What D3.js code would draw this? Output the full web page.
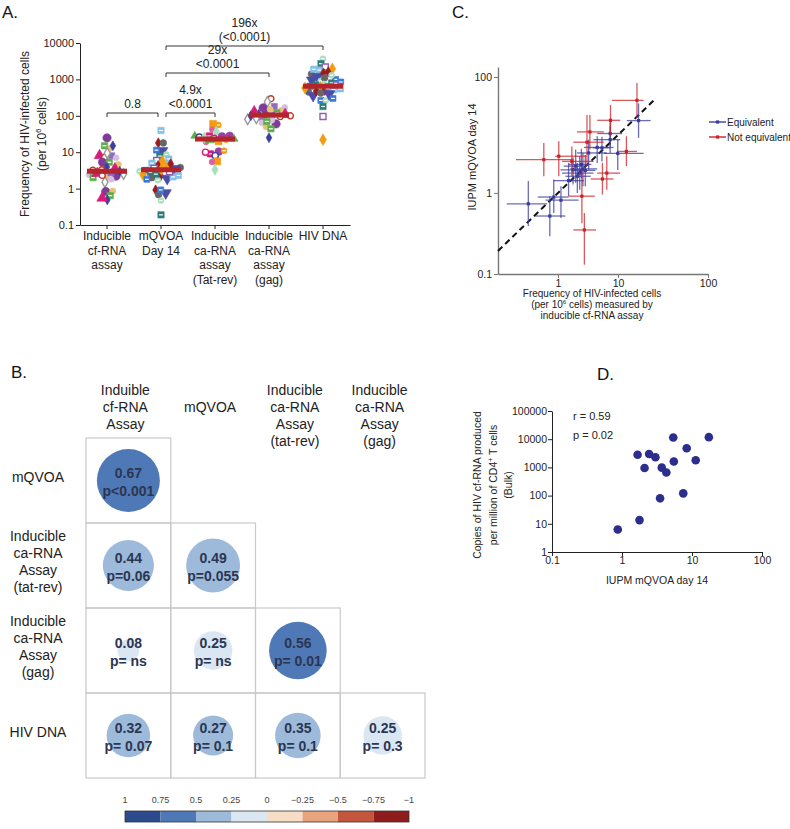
<!DOCTYPE html>
<html>
<head>
<meta charset="utf-8">
<script src="https://cdn.jsdelivr.net/npm/d3@7"></script>
<style>
  body { margin: 0; background: #fff; }
  svg { font-family: "Liberation Sans", Arial, sans-serif; }
</style>
</head>
<body>
<svg width="790" height="829"></svg>
<script>
const svg = d3.select("svg");
const FONT = "'Liberation Sans', Arial, sans-serif";

// ---------------- data: panel A ----------------
const catsA = ["cfRNA", "mQVOA", "tatRev", "gag", "hivDNA"];
const catLabelsA = [
  ["Inducible", "cf-RNA", "assay"],
  ["mQVOA", "Day 14"],
  ["Inducible", "ca-RNA", "assay", "(Tat-rev)"],
  ["Inducible", "ca-RNA", "assay", "(gag)"],
  ["HIV DNA"]
];
const mediansA = [3.0, 3.3, 23, 105, 650];
const cfRNA = [24.7, 12.4, 15, 15, 8.1, 7.3, 8, 9.4, 7, 5.3, 4.6, 5.3, 3.9, 3.5, 3.2, 2.8, 2.5, 2.4, 2.2, 2.0, 2.0, 3.0, 2.6, 3.3, 2.7, 1.5, 1.8, 0.83, 0.85, 0.64, 0.49, 0.55, 2.3];
const mQVOA = [39.5, 18, 18, 11, 11.4, 8.6, 7.8, 5.9, 5.6, 5, 4.3, 3.8, 3.5, 3.2, 3.0, 2.8, 2.6, 2.4, 2.3, 2.2, 2.0, 1.9, 1.8, 1.7, 2.5, 3.6, 4.0, 2.1, 0.92, 0.68, 0.76, 0.92, 0.47, 0.19, 2.9, 3.4, 6.5, 4.8];
const tatRev = [56, 60, 42, 36, 28, 28, 28, 26, 24, 22, 20, 19, 25, 23, 10.4, 9, 8, 10, 11, 5.6, 5.4, 3.3, 21, 27];
const gag = [295, 180, 240, 170, 165, 140, 120, 110, 110, 100, 90, 80, 64, 60, 50, 44, 25, 130, 95, 105, 85, 75, 115, 150, 70, 100];
const hivDNA = [3700, 2700, 2200, 1950, 1800, 1600, 1400, 1200, 1000, 900, 800, 700, 600, 550, 500, 450, 360, 265, 265, 180, 96, 22, 1900, 1500, 1100, 950, 850, 750, 650, 620, 580, 520, 480, 420, 400, 300, 1300, 700];
const compsA = [
  { a: "cfRNA", b: "mQVOA", text: ["0.8"] },
  { a: "mQVOA", b: "tatRev", text: ["4.9x", "<0.0001"] },
  { a: "mQVOA", b: "gag", text: ["29x", "<0.0001"] },
  { a: "mQVOA", b: "hivDNA", text: ["196x", "(<0.0001)"] }
];
// one marker style per participant
const patientStyles = [
  ["circle", "#7d3c98", "solid", 55], ["square", "#d81b7a", "barred", 40], ["diamond", "#f39c12", "solid", 40],
  ["circle", "#e6c27a", "solid", 30], ["circle", "#3b3fa0", "open", 30], ["square", "#85c1e9", "barred", 40],
  ["square", "#5cae4a", "barred", 40], ["circle", "#d81b7a", "open", 30], ["diamond", "#9b1c1c", "solid", 30],
  ["diamond", "#3b3fa0", "solid", 28], ["circle", "#f39c12", "barred", 28], ["circle", "#666666", "solid", 35],
  ["triangle", "#d81b7a", "solid", 50], ["square", "#f39c12", "solid", 48], ["triangleDown", "#4b4ba8", "solid", 55],
  ["circle", "#c0392b", "open", 28], ["circle", "#e05fa0", "solid", 25], ["square", "#3c78d8", "barred", 36],
  ["square", "#8e6bbf", "solid", 36], ["diamond", "#a9dfbf", "solid", 36], ["circle", "#a9dfbf", "barred", 28],
  ["diamond", "#999999", "open", 32], ["triangle", "#5cae4a", "solid", 28], ["square", "#2e7d7a", "barred", 40],
  ["circle", "#d7bde2", "solid", 28], ["circle", "#9b3fa8", "solid", 48], ["square", "#8e5fb0", "open", 36]
];

// ---------------- data: panel B ----------------
const rowLabelsB = [["mQVOA"], ["Inducible", "ca-RNA", "Assay", "(tat-rev)"], ["Inducible", "ca-RNA", "Assay", "(gag)"], ["HIV DNA"]];
const colLabelsB = [["Induible", "cf-RNA", "Assay"], ["mQVOA"], ["Inducible", "ca-RNA", "Assay", "(tat-rev)"], ["Inducible", "ca-RNA", "Assay", "(gag)"]];
const corrB = [[0.67], [0.44, 0.49], [0.08, 0.25, 0.56], [0.32, 0.27, 0.35, 0.25]];
const pB = [["p<0.001"], ["p=0.06", "p=0.055"], ["p= ns", "p= ns", "p= 0.01"], ["p= 0.07", "p= 0.1", "p= 0.1", "p= 0.3"]];
const legendTicksB = [1, 0.75, 0.5, 0.25, 0, -0.25, -0.5, -0.75, -1];
const legendColorsB = ["#2c4a8e", "#4f79b6", "#9dbadb", "#dbe6f3", "#f7ddc6", "#e9a47e", "#c4563e", "#8e1c1c"];

// ---------------- data: panel C ----------------
const equivalentC = [
  { x: 0.32, xlo: 0.14, xhi: 0.66, y: 0.65, ylo: 0.27, yhi: 1.6 },
  { x: 0.73, xlo: 0.42, xhi: 1.33, y: 0.40, ylo: 0.18, yhi: 0.88 },
  { x: 0.85, xlo: 0.46, xhi: 1.5, y: 0.85, ylo: 0.45, yhi: 1.7 },
  { x: 1.12, xlo: 0.62, xhi: 2.2, y: 0.75, ylo: 0.37, yhi: 1.3 },
  { x: 1.5, xlo: 0.85, xhi: 2.7, y: 1.63, ylo: 0.88, yhi: 3.3 },
  { x: 1.97, xlo: 1.24, xhi: 3.0, y: 2.9, ylo: 1.5, yhi: 5.6 },
  { x: 2.3, xlo: 1.17, xhi: 3.9, y: 2.2, ylo: 1.14, yhi: 4.3 },
  { x: 2.6, xlo: 1.6, xhi: 4.5, y: 2.6, ylo: 1.3, yhi: 4.9 },
  { x: 2.85, xlo: 1.8, xhi: 4.2, y: 2.45, ylo: 1.3, yhi: 4.5 },
  { x: 2.1, xlo: 1.33, xhi: 3.5, y: 1.94, ylo: 1.0, yhi: 3.3 },
  { x: 1.78, xlo: 1.1, xhi: 2.9, y: 2.5, ylo: 1.4, yhi: 4.1 },
  { x: 2.45, xlo: 1.5, xhi: 3.6, y: 3.1, ylo: 1.8, yhi: 5.8 },
  { x: 3.24, xlo: 2.07, xhi: 6.5, y: 4.9, ylo: 2.5, yhi: 8.3 },
  { x: 4.5, xlo: 2.7, xhi: 8.4, y: 6.1, ylo: 3.3, yhi: 9.5 },
  { x: 5.4, xlo: 3.8, xhi: 7.2, y: 6.0, ylo: 3.5, yhi: 9.3 },
  { x: 7.4, xlo: 3.9, xhi: 10.9, y: 8.3, ylo: 4.9, yhi: 14 },
  { x: 7.4, xlo: 4.5, xhi: 11.7, y: 10.6, ylo: 6.4, yhi: 18 },
  { x: 9.9, xlo: 5.8, xhi: 26.7, y: 4.8, ylo: 2.5, yhi: 8.3 },
  { x: 22, xlo: 14, xhi: 35, y: 17.7, ylo: 8.9, yhi: 35 }
];
const notEquivalentC = [
  { x: 0.58, xlo: 0.2, xhi: 1.8, y: 3.75, ylo: 1.94, yhi: 7.3 },
  { x: 1.03, xlo: 0.9, xhi: 3.0, y: 4.3, ylo: 1.94, yhi: 7.8 },
  { x: 1.7, xlo: 1.17, xhi: 3.9, y: 3.5, ylo: 1.94, yhi: 6.3 },
  { x: 3.04, xlo: 1.8, xhi: 5.8, y: 7.5, ylo: 2.9, yhi: 22 },
  { x: 3.4, xlo: 2.07, xhi: 5.8, y: 11.3, ylo: 5.6, yhi: 22 },
  { x: 7.5, xlo: 4.5, xhi: 10.9, y: 17.9, ylo: 9.5, yhi: 33 },
  { x: 20.7, xlo: 7.9, xhi: 26.7, y: 39.6, ylo: 19.7, yhi: 79 },
  { x: 13.8, xlo: 9.6, xhi: 20.7, y: 5.2, ylo: 2.9, yhi: 9.5 },
  { x: 6.5, xlo: 4.5, xhi: 10.9, y: 2.2, ylo: 1.14, yhi: 4.3 },
  { x: 5.5, xlo: 3.5, xhi: 8.4, y: 1.74, ylo: 0.94, yhi: 3.3 },
  { x: 2.5, xlo: 1.5, xhi: 4.1, y: 0.88, ylo: 0.3, yhi: 2.5 },
  { x: 2.75, xlo: 1.8, xhi: 4.3, y: 0.23, ylo: 0.058, yhi: 0.45 }
];
const xTickLabelsC = ["1", "10", "100"];
const yTickLabelsC = ["0.1", "1", "100"];

// ---------------- data: panel D ----------------
const iupmD = [0.87, 1.78, 1.67, 2.1, 2.44, 3.0, 3.7, 4.3, 3.5, 5.4, 5.5, 7.5, 8.4, 11.3, 17.4];
const copiesD = [6.3, 13.5, 2800, 950, 3000, 2300, 980, 660, 80, 11500, 1620, 120, 4800, 1800, 11800];

// ---------------- helpers ----------------
function styleAxis(g, size, stroke) {
  g.attr("font-family", FONT).attr("font-size", size);
  g.selectAll("path, line").attr("stroke", stroke);
  g.selectAll("text").attr("fill", "#222");
}
function panelLabel(x, y, t) {
  svg.append("text").attr("x", x).attr("y", y).attr("font-size", 17).attr("fill", "#111").text(t);
}

// ================= Panel A =================
panelLabel(2, 18, "A.");
const xA = d3.scaleBand().domain(catsA).range([80, 350]);
const yA = d3.scaleLog().domain([0.1, 10000]).range([225, 43]);
const gA = svg.append("g");
const cx = c => xA(c) + xA.bandwidth() / 2;

const yAxA = gA.append("g").attr("transform", "translate(80,0)")
  .call(d3.axisLeft(yA).tickValues([0.1, 1, 10, 100, 1000, 10000])
    .tickFormat(d3.format("~g")).tickSize(4).tickPadding(2).tickSizeOuter(0));
styleAxis(yAxA, 11, "#222");
const xAxA = gA.append("g").attr("transform", "translate(0,225)")
  .call(d3.axisBottom(xA).tickSize(4).tickSizeOuter(0).tickFormat(""));
styleAxis(xAxA, 12, "#222");

catsA.forEach((c, i) => {
  const t = gA.append("text").attr("text-anchor", "middle").attr("font-size", 12).attr("fill", "#222");
  catLabelsA[i].forEach((s, j) => t.append("tspan").attr("x", cx(c)).attr("y", 240 + j * 14.5).text(s));
});

const yLab = gA.append("text").attr("transform", "translate(29,134) rotate(-90)")
  .attr("text-anchor", "middle").attr("font-size", 12).attr("fill", "#222");
yLab.append("tspan").attr("x", 0).attr("y", 0).text("Frequency of HIV-infected cells");
const yLab2 = gA.append("text").attr("transform", "translate(46,134) rotate(-90)")
  .attr("text-anchor", "middle").attr("font-size", 12).attr("fill", "#222");
yLab2.append("tspan").text("(per 10");
yLab2.append("tspan").attr("font-size", 8).attr("dy", -5).text("6");
yLab2.append("tspan").attr("dy", 5).text(" cells)");

// points, spread sideways with a small collide simulation per column
const seriesA = [cfRNA, mQVOA, tatRev, gag, hivDNA];
const symType = {
  circle: d3.symbolCircle, square: d3.symbolSquare, diamond: d3.symbolDiamond,
  triangle: d3.symbolTriangle, triangleDown: d3.symbolTriangle
};
seriesA.forEach((vals, k) => {
  const c = catsA[k];
  const nodes = vals.map((v, i) => {
    const st = patientStyles[(i * 3 + k * 5) % patientStyles.length];
    return { v, shape: st[0], color: st[1], fill: st[2], size: st[3], r: Math.sqrt(st[3] / Math.PI), fy: yA(v) };
  });
  const sim = d3.forceSimulation(nodes)
    .force("x", d3.forceX(cx(c)).strength(0.2))
    .force("col", d3.forceCollide(d => d.r * 0.78))
    .stop();
  for (let i = 0; i < 250; i++) sim.tick();

  const g = gA.append("g");
  nodes.forEach(d => {
    const rot = d.shape === "triangleDown" ? " rotate(180)" : "";
    const gg = g.append("g").attr("transform", `translate(${d.x},${d.fy})${rot}`);
    gg.append("path")
      .attr("d", d3.symbol().type(symType[d.shape]).size(d.size)())
      .attr("fill", d.fill === "open" ? "#fff" : d.color)
      .attr("stroke", d.color)
      .attr("stroke-width", d.fill === "open" ? 1.4 : 0.6);
    if (d.fill === "barred") {
      gg.append("line").attr("x1", -d.r * 0.55).attr("x2", d.r * 0.55)
        .attr("stroke", "#fff").attr("stroke-width", 1.2);
    }
  });
});

// median bars
gA.selectAll("rect.med").data(mediansA).join("rect")
  .attr("x", (d, i) => cx(catsA[i]) - 20).attr("width", 40)
  .attr("y", d => yA(d) - 2.5).attr("height", 5)
  .attr("fill", "#b5232b");

// comparison brackets
const bracketY = [113, 113, 73, 46];
compsA.forEach((cmp, i) => {
  const x1 = cx(cmp.a) + (i > 0 ? 5 : 0), x2 = cx(cmp.b) - (i === 0 ? 3 : 0);
  const y = bracketY[i];
  gA.append("path").attr("d", `M${x1},${y + 4}V${y}H${x2}V${y + 4}`)
    .attr("fill", "none").attr("stroke", "#333").attr("stroke-width", 1);
  const n = cmp.text.length;
  cmp.text.forEach((s, j) => {
    gA.append("text").attr("x", (x1 + x2) / 2).attr("y", y - 5 - (n - 1 - j) * 14)
      .attr("text-anchor", "middle").attr("font-size", 12).attr("fill", "#222").text(s);
  });
});

// ================= Panel B =================
panelLabel(11, 378, "B.");
const gB = svg.append("g");
const xB = d3.scaleBand().domain(d3.range(4)).range([86, 425]);
const yB = d3.scaleBand().domain(d3.range(4)).range([438, 778]);
const rB = d3.scaleSqrt().domain([0, 1]).range([0, 38.5]);
const colorB = d3.scaleThreshold().domain([-0.75, -0.5, -0.25, 0, 0.25, 0.5, 0.75])
  .range(legendColorsB.slice().reverse());

colLabelsB.forEach((lines, j) => {
  const t = gB.append("text").attr("text-anchor", "middle").attr("font-size", 14).attr("fill", "#222");
  const y0 = 395 + (lines.length === 1 ? 17 : 0);
  lines.forEach((s, k) => t.append("tspan").attr("x", xB(j) + xB.bandwidth() / 2 - 3).attr("y", y0 + k * 17).text(s));
});
rowLabelsB.forEach((lines, i) => {
  const t = gB.append("text").attr("text-anchor", "middle").attr("font-size", 14).attr("fill", "#222");
  const yc = yB(i) + yB.bandwidth() / 2 - 4;
  lines.forEach((s, k) => t.append("tspan").attr("x", 38)
    .attr("y", yc + (k - (lines.length - 1) / 2) * 17.3 + 5).text(s));
});

corrB.forEach((row, i) => {
  row.forEach((v, j) => {
    gB.append("rect").attr("x", xB(j)).attr("y", yB(i))
      .attr("width", xB.bandwidth()).attr("height", yB.bandwidth())
      .attr("fill", "none").attr("stroke", "#c9c9c9").attr("stroke-width", 1.2);
  });
});
corrB.forEach((row, i) => {
  row.forEach((v, j) => {
    const ccx = xB(j) + xB.bandwidth() / 2, ccy = yB(i) + yB.bandwidth() / 2;
    gB.append("circle").attr("cx", ccx).attr("cy", ccy).attr("r", rB(Math.abs(v)))
      .attr("fill", colorB(v - 1e-6));
    gB.append("text").attr("x", ccx).attr("y", ccy - 3).attr("text-anchor", "middle")
      .attr("font-size", 14).attr("font-weight", "bold").attr("fill", "#2b3652").text(d3.format(".2f")(v));
    gB.append("text").attr("x", ccx).attr("y", ccy + 15).attr("text-anchor", "middle")
      .attr("font-size", 14).attr("font-weight", "bold").attr("fill", "#2b3652").text(pB[i][j]);
  });
});

// colour legend
const xLeg = d3.scalePoint().domain(legendTicksB).range([125, 409]);
legendColorsB.forEach((col, i) => {
  gB.append("rect").attr("x", xLeg(legendTicksB[i])).attr("y", 811)
    .attr("width", xLeg(legendTicksB[i + 1]) - xLeg(legendTicksB[i])).attr("height", 11)
    .attr("fill", col);
});
gB.append("rect").attr("x", 125).attr("y", 811).attr("width", 284).attr("height", 11)
  .attr("fill", "none").attr("stroke", "#333").attr("stroke-width", 0.8);
legendTicksB.forEach(t => {
  gB.append("text").attr("x", xLeg(t)).attr("y", 803).attr("text-anchor", "middle")
    .attr("font-size", 9).attr("fill", "#444").text(d3.format("~g")(t).replace("-", "\u2212"));
});

// ================= Panel C =================
panelLabel(452, 18, "C.");
const gC = svg.append("g");
const xC = d3.scaleLog().domain([0.1, 316]).range([498, 708]);
const yC = d3.scaleLog().domain([0.04, 148.7]).range([274, 67]);

const xAxC = gC.append("g").attr("transform", "translate(0,274)")
  .call(d3.axisBottom(xC).tickValues([1, 10, xC.domain()[1]])
    .tickFormat((d, i) => xTickLabelsC[i]).tickSize(4).tickPadding(2).tickSizeOuter(0));
styleAxis(xAxC, 10.5, "#777");
const yAxC = gC.append("g").attr("transform", "translate(498,0)")
  .call(d3.axisLeft(yC).tickValues([yC.domain()[0], 1, 100])
    .tickFormat((d, i) => yTickLabelsC[i]).tickSize(4).tickPadding(2).tickSizeOuter(0));
styleAxis(yAxC, 10.5, "#777");
xAxC.select(".domain").attr("stroke-width", 1.4);
yAxC.select(".domain").attr("stroke-width", 1.4);

gC.append("line").attr("x1", xC(0.1)).attr("y1", yC(0.1)).attr("x2", xC(42)).attr("y2", yC(42))
  .attr("stroke", "#111").attr("stroke-width", 2).attr("stroke-dasharray", "6,4");

function drawErr(data, color) {
  const g = gC.append("g");
  data.forEach(d => {
    g.append("line").attr("x1", xC(d.xlo)).attr("x2", xC(d.xhi)).attr("y1", yC(d.y)).attr("y2", yC(d.y))
      .attr("stroke", color).attr("stroke-width", 1.3).attr("stroke-opacity", 0.75);
    g.append("line").attr("x1", xC(d.x)).attr("x2", xC(d.x)).attr("y1", yC(d.ylo)).attr("y2", yC(d.yhi))
      .attr("stroke", color).attr("stroke-width", 1.3).attr("stroke-opacity", 0.75);
    g.append("rect").attr("x", xC(d.x) - 1.6).attr("y", yC(d.y) - 1.6).attr("width", 3.2).attr("height", 3.2)
      .attr("fill", color);
  });
}
drawErr(equivalentC, "#3b3b9c");
drawErr(notEquivalentC, "#cc2026");

[["Equivalent", "#3b3b9c", 122], ["Not equivalent", "#cc2026", 137]].forEach(([t, c, y]) => {
  gC.append("line").attr("x1", 709).attr("x2", 726).attr("y1", y).attr("y2", y).attr("stroke", c).attr("stroke-width", 1.4);
  gC.append("rect").attr("x", 716).attr("y", y - 1.6).attr("width", 3.2).attr("height", 3.2).attr("fill", c);
  gC.append("text").attr("x", 727).attr("y", y + 3.5).attr("font-size", 10).attr("fill", "#222").text(t);
});

gC.append("text").attr("transform", "translate(476,157) rotate(-90)").attr("text-anchor", "middle")
  .attr("font-size", 11).attr("fill", "#222").text("IUPM mQVOA day 14");
const xlC = gC.append("text").attr("text-anchor", "middle").attr("font-size", 10).attr("fill", "#222");
xlC.append("tspan").attr("x", 592).attr("y", 297).text("Frequency of HIV-infected cells");
const l2 = xlC.append("tspan").attr("x", 592).attr("y", 308);
l2.append("tspan").text("(per 10");
l2.append("tspan").attr("font-size", 6).attr("dy", -4).text("6");
l2.append("tspan").attr("dy", 4).text(" cells) measured by");
xlC.append("tspan").attr("x", 592).attr("y", 319).text("inducible cf-RNA assay");

// ================= Panel D =================
panelLabel(597, 380, "D.");
const gD = svg.append("g");
const xD = d3.scaleLog().domain([0.1, 100]).range([552, 762]);
const yD = d3.scaleLog().domain([1, 100000]).range([552, 411]);

const xAxD = gD.append("g").attr("transform", "translate(0,552)")
  .call(d3.axisBottom(xD).tickValues([0.1, 1, 10, 100]).tickFormat(d3.format("~g"))
    .tickSize(4).tickPadding(1).tickSizeOuter(0));
styleAxis(xAxD, 10.5, "#222");
const yAxD = gD.append("g").attr("transform", "translate(552,0)")
  .call(d3.axisLeft(yD).tickValues([1, 10, 100, 1000, 10000, 100000]).tickFormat(d3.format("~g"))
    .tickSize(4).tickPadding(1).tickSizeOuter(0));
styleAxis(yAxD, 10.5, "#222");

gD.selectAll("circle").data(iupmD).join("circle")
  .attr("cx", d => xD(d)).attr("cy", (d, i) => yD(copiesD[i])).attr("r", 4.3)
  .attr("fill", "#2b2e8c");

gD.append("text").attr("x", 573).attr("y", 420).attr("font-size", 11).attr("fill", "#222").text("r = 0.59");
gD.append("text").attr("x", 573).attr("y", 439).attr("font-size", 11).attr("fill", "#222").text("p = 0.02");

gD.append("text").attr("x", 657).attr("y", 584).attr("text-anchor", "middle")
  .attr("font-size", 10.5).attr("fill", "#222").text("IUPM mQVOA day 14");
const ylD = gD.append("text").attr("transform", "translate(0,485) rotate(-90)")
  .attr("text-anchor", "middle").attr("font-size", 10.5).attr("fill", "#222");
ylD.append("tspan").attr("x", 0).attr("y", 481).text("Copies of HIV cf-RNA produced");
const d2 = ylD.append("tspan").attr("x", 0).attr("y", 497);
d2.append("tspan").text("per million of  CD4");
d2.append("tspan").attr("font-size", 7).attr("dy", -4).text("+");
d2.append("tspan").attr("dy", 4).text(" T cells");
ylD.append("tspan").attr("x", 0).attr("y", 512).text("(Bulk)");
</script>
</body>
</html>
